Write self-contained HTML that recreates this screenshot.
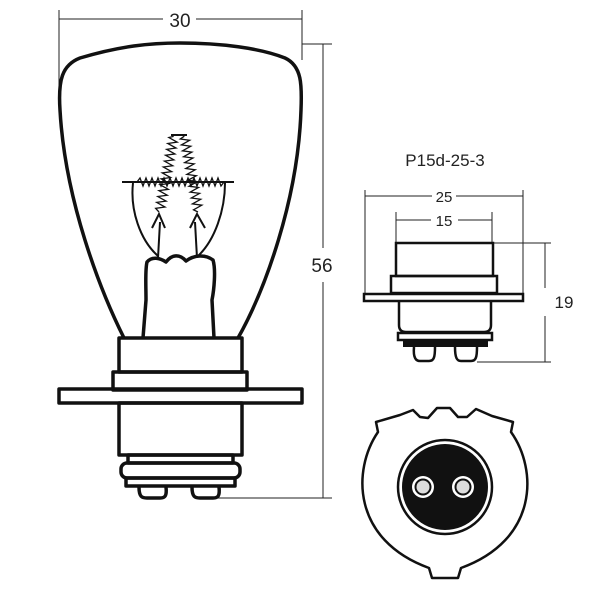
<!DOCTYPE html>
<html><head><style>body{margin:0;background:#fff}svg{display:block}</style></head><body>
<svg width="600" height="600" viewBox="0 0 600 600" xmlns="http://www.w3.org/2000/svg" font-family="Liberation Sans, sans-serif">
<g stroke="#222" stroke-width="1" fill="none">
<line x1="59" y1="10" x2="59" y2="85"/><line x1="302" y1="10" x2="302" y2="60"/>
<line x1="59" y1="19" x2="163" y2="19"/><line x1="196" y1="19" x2="302" y2="19"/>
<line x1="302" y1="44" x2="332" y2="44"/><line x1="210" y1="498" x2="332" y2="498"/>
<line x1="323" y1="44" x2="323" y2="248"/><line x1="323" y1="282" x2="323" y2="498"/>
</g>
<text x="180" y="27" font-size="19" text-anchor="middle" fill="#222">30</text>
<text x="322" y="272" font-size="19" text-anchor="middle" fill="#222">56</text>
<g stroke="#111" stroke-width="3.5" fill="none" stroke-linejoin="round">
<path d="M124 338 C100 290 65 200 60 110 C58 80 62 65 80 58 C120 46 150 43 180 43 C220 43 260 48 285 58 C302 66 302 85 301 110 C298 200 265 290 238 338"/>
<path d="M143 338 L146 300 C146 285 145 270 147 262 C152 256 160 258 166 262 C172 254 180 254 186 261 C194 255 205 254 213 260 C216 270 214 290 212 300 L214 338"/>
<rect x="119" y="338" width="123" height="34"/>
<rect x="113" y="372" width="134" height="18"/>
<rect x="59" y="389" width="243" height="14"/>
<rect x="119" y="403" width="123" height="52"/>
<rect x="128" y="455" width="105" height="8"/>
<rect x="121" y="463" width="119" height="15" rx="6"/>
<rect x="126" y="478" width="109" height="8"/>
<path d="M139 487 C139 497 142 498 147 498 L160 498 C165 498 167 496 166 487"/>
<path d="M192 487 C192 497 195 498 200 498 L213 498 C218 498 220 496 219 487"/>
</g>
<g stroke="#111" stroke-width="2" fill="none">
<path d="M158 258 L160 222 M152 228 L159 214 L165 228"/>
<path d="M197 258 L195 222 M190 228 L197 214 L205 228"/>
<path d="M133 183 C130 210 140 240 158 256"/>
<path d="M225 183 C225 210 215 240 198 256"/>
<line x1="122" y1="182" x2="234" y2="182"/>
<path d="M171 135 L187 135"/>
</g>
<g stroke="#111" stroke-width="1.3" fill="none">
<path d="M137 182 l3-4 3 8 3-8 3 8 3-8 3 8 3-8 3 8 3-8 3 8 3-8 3 8 3-8 3 8 3-8 3 8 3-8 3 8 3-8 3 8 3-8 3 8 3-8 3 8 3-8 3 8 3-8 3 8 3-4"/>
<path d="M159 212 l-4-3 9-3 -9-3 9-3 -9-3 9-3 -9-3 9-3 -9-3 9-3 -9-3 9-3 -9-3 9-3 -9-3 9-3 -9-3 9-3 -9-3 9-3 -9-3 9-3 -9-3 9-3 -9-3 4.5-2" transform="rotate(10.6 159 212)"/>
<path d="M198 212 l-4-3 9-3 -9-3 9-3 -9-3 9-3 -9-3 9-3 -9-3 9-3 -9-3 9-3 -9-3 9-3 -9-3 9-3 -9-3 9-3 -9-3 9-3 -9-3 9-3 -9-3 9-3 -9-3 4.5-2" transform="rotate(-10.6 198 212)"/>
</g>
<text x="445" y="166" font-size="17" text-anchor="middle" fill="#222">P15d-25-3</text>
<g stroke="#222" stroke-width="1" fill="none">
<line x1="365" y1="190" x2="365" y2="293"/><line x1="523" y1="190" x2="523" y2="293"/>
<line x1="365" y1="196" x2="432" y2="196"/><line x1="456" y1="196" x2="523" y2="196"/>
<line x1="396" y1="212" x2="396" y2="243"/><line x1="492" y1="212" x2="492" y2="243"/>
<line x1="396" y1="220" x2="431" y2="220"/><line x1="458" y1="220" x2="492" y2="220"/>
<line x1="493" y1="243" x2="551" y2="243"/><line x1="477" y1="362" x2="551" y2="362"/>
<line x1="545" y1="243" x2="545" y2="288"/><line x1="545" y1="316" x2="545" y2="362"/>
</g>
<text x="444" y="202" font-size="15" text-anchor="middle" fill="#222">25</text>
<text x="444" y="226" font-size="15" text-anchor="middle" fill="#222">15</text>
<text x="564" y="308" font-size="17" text-anchor="middle" fill="#222">19</text>
<g stroke="#111" stroke-width="2.5" fill="none">
<rect x="396" y="243" width="97" height="33"/>
<rect x="391" y="276" width="106" height="17"/>
<rect x="364" y="294" width="159" height="7"/>
<path d="M399 301 L399 325 Q399 332 406 332 L484 332 Q491 332 491 325 L491 301"/>
<rect x="398" y="333" width="94" height="7"/>
<path d="M414 347 C413 358 416 361 420 361 L429 361 C434 361 435 357 435 347"/>
<path d="M455 347 C455 358 457 361 461 361 L471 361 C476 361 477 357 477 347"/>
</g>
<rect x="403" y="339" width="85" height="8" fill="#111"/>
<path d="M378 432 L376 422 L400 415 L413 410 L420 417 L428 418 L437 408 L450 408 L458 417 L467 417 L476 409 L492 416 L513 422 L511 432 C538 470 538 540 461 568 L458 578 L432 578 L429 568 C352 540 352 470 378 432 Z" stroke="#111" stroke-width="2.5" fill="none" stroke-linejoin="round"/>
<circle cx="445" cy="487" r="47" stroke="#111" stroke-width="2.5" fill="none"/>
<circle cx="445" cy="487" r="43" fill="#111"/>
<circle cx="423" cy="487" r="11" fill="#fff"/><circle cx="423" cy="487" r="8.5" fill="#111"/><circle cx="423" cy="487" r="6.5" fill="#ddd"/>
<circle cx="463" cy="487" r="11" fill="#fff"/><circle cx="463" cy="487" r="8.5" fill="#111"/><circle cx="463" cy="487" r="6.5" fill="#ddd"/>
</svg>
</body></html>
